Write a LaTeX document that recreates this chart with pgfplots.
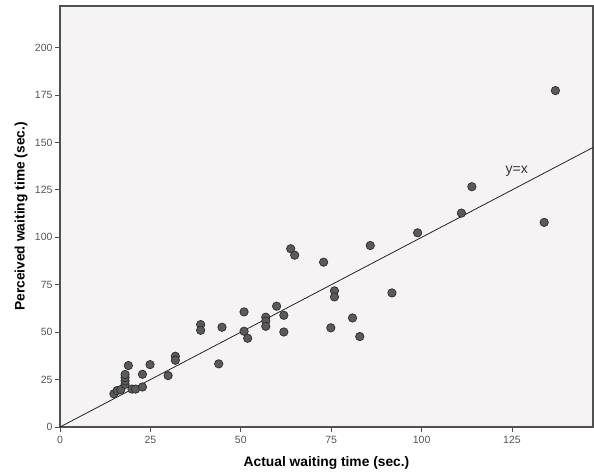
\documentclass[border=0pt]{standalone}
\usepackage{pgfplots}
\pgfplotsset{compat=1.18}
\usepackage{fontspec}
\setmainfont{Liberation Sans}
\definecolor{bgc}{RGB}{246,243,244}
\definecolor{framec}{RGB}{80,80,80}
\definecolor{ptfill}{RGB}{90,90,90}
\definecolor{ptdraw}{RGB}{45,45,45}
\definecolor{tickc}{RGB}{85,85,85}
\begin{document}
\begin{tikzpicture}
\path[use as bounding box] (0,0) rectangle (594bp,473bp);
\begin{axis}[
  at={(60bp,46bp)}, anchor=south west,
  scale only axis, width=533bp, height=421bp,
  xmin=0, xmax=147.4, ymin=0, ymax=222,
  axis background/.style={fill=bgc},
  axis line style={draw=framec, line width=1.2bp},
  xtick={0,25,50,75,100,125},
  ytick={0,25,50,75,100,125,150,175,200},
  tick align=outside, tick pos=left,
  major tick length=5bp,
  tick style={draw=framec, line width=0.9bp},
  /pgf/number format/assume math mode=true,
  ticklabel style={font=\fontsize{10.5bp}{12bp}\selectfont, text=tickc},
  xticklabel style={yshift=-1bp},
  yticklabel style={xshift=1bp},
  xlabel={\textbf{Actual waiting time (sec.)}},
  ylabel={\textbf{Perceived waiting time (sec.)}},
  label style={font=\fontsize{13.8bp}{16bp}\selectfont},
  xlabel style={at={(axis description cs:0.5,0)}, anchor=center, yshift=-36bp},
  ylabel style={at={(axis description cs:0,0.5)}, anchor=center, yshift=39bp},
  clip=false,
]
\addplot[draw=ptdraw!80!black, line width=0.8bp, forget plot] coordinates {(0,0) (147.4,147.4)};
\addplot[only marks, mark=*, mark size=4.2bp, mark options={fill=ptfill, draw=ptdraw, line width=0.7bp}] table {
x y
14.9 17.5
15.8 19.2
16.8 19.7
18.0 22.5
18.0 24.3
18.0 26.0
18.0 27.7
18.9 32.4
19.9 20.0
20.9 20.0
22.8 21.1
22.8 27.8
24.9 32.9
29.9 27.1
31.9 37.3
31.9 35.2
38.9 54.0
38.9 51.0
43.9 33.3
44.8 52.6
50.9 60.7
50.9 50.5
51.9 46.8
56.9 57.9
56.9 55.8
56.9 53.1
59.9 63.7
61.9 58.9
61.9 50.1
63.8 94.0
64.9 90.6
72.9 86.9
74.9 52.3
75.9 71.8
75.9 68.6
80.9 57.5
82.9 47.7
85.8 95.7
91.8 70.7
98.9 102.4
111.0 112.8
113.9 126.7
133.9 107.9
137.0 177.4
};
\node[font=\fontsize{14bp}{16bp}\selectfont, text=black!80] at (axis cs:126.3,135) {y=x};
\end{axis}
\end{tikzpicture}
\end{document}
